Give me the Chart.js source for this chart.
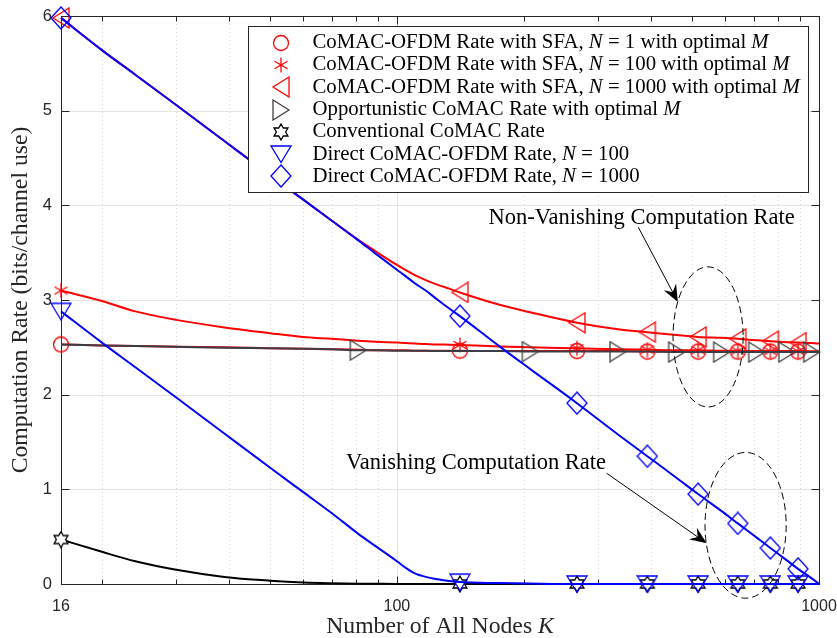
<!DOCTYPE html>
<html>
<head>
<meta charset="utf-8">
<script src="https://cdn.jsdelivr.net/npm/chart.js@4.4.0/dist/chart.umd.min.js"></script>
<style>
  html, body { margin: 0; padding: 0; background: #fff; }
  canvas { display: block; }
</style>
</head>
<body>
<canvas id="chart" width="837" height="638"></canvas>
<script>
// number of all nodes K (shared x values)
const K = [16, 20, 24, 30, 39, 50, 60, 70, 81, 89, 100, 105, 110, 117, 125, 133, 141, 175, 207, 267, 334, 392, 460, 517, 588, 642, 712, 767, 839, 892, 961, 1000];

const rateSfaN1 = [2.53, 2.52, 2.515, 2.505, 2.5, 2.49, 2.485, 2.48, 2.475, 2.47, 2.47, 2.47, 2.465, 2.465, 2.465, 2.465, 2.465, 2.46, 2.46, 2.46, 2.46, 2.455, 2.455, 2.455, 2.455, 2.455, 2.455, 2.455, 2.455, 2.455, 2.455, 2.455];
const rateSfaN100 = [3.10, 2.99, 2.88, 2.79, 2.71, 2.65, 2.61, 2.59, 2.57, 2.56, 2.55, 2.545, 2.54, 2.535, 2.53, 2.528, 2.525, 2.51, 2.5, 2.49, 2.48, 2.475, 2.47, 2.47, 2.465, 2.465, 2.46, 2.46, 2.46, 2.46, 2.455, 2.455];
const rateSfaN1000 = [5.98, 5.64, 5.38, 5.06, 4.68, 4.32, 4.06, 3.84, 3.635, 3.515, 3.37, 3.315, 3.265, 3.21, 3.16, 3.12, 3.08, 2.95, 2.87, 2.76, 2.69, 2.66, 2.63, 2.61, 2.6, 2.59, 2.575, 2.565, 2.555, 2.55, 2.545, 2.54];
const rateOpportunistic = [2.53, 2.52, 2.515, 2.505, 2.495, 2.49, 2.485, 2.48, 2.47, 2.47, 2.465, 2.465, 2.465, 2.465, 2.46, 2.46, 2.46, 2.46, 2.455, 2.455, 2.455, 2.455, 2.45, 2.45, 2.45, 2.45, 2.45, 2.45, 2.45, 2.45, 2.45, 2.45];
const rateConventional = [0.47, 0.34, 0.24, 0.15, 0.075, 0.035, 0.015, 0.007, 0.003, 0.002, 0.001, 0, 0, 0, 0, 0, 0, 0, 0, 0, 0, 0, 0, 0, 0, 0, 0, 0, 0, 0, 0, 0];
const rateDirectN100 = [2.88, 2.55, 2.29, 1.97, 1.59, 1.23, 0.97, 0.75, 0.53, 0.4, 0.24, 0.17, 0.115, 0.075, 0.05, 0.032, 0.02, 0.01, 0.005, 0, 0, 0, 0, 0, 0, 0, 0, 0, 0, 0, 0, 0];
const rateDirectN1000 = [5.98, 5.64, 5.38, 5.06, 4.68, 4.32, 4.06, 3.84, 3.63, 3.49, 3.32, 3.25, 3.18, 3.1, 3.0, 2.91, 2.83, 2.51, 2.27, 1.91, 1.58, 1.35, 1.12, 0.95, 0.77, 0.64, 0.49, 0.38, 0.25, 0.16, 0.06, 0];

// K values that carry a marker
const markK = [16, 141, 267, 392, 517, 642, 767, 892];
const markKOpp = [81, 207, 334, 460, 588, 712, 839, 961];

const seriesLabels = [
  'CoMAC-OFDM Rate with SFA, N = 1 with optimal M',
  'CoMAC-OFDM Rate with SFA, N = 100 with optimal M',
  'CoMAC-OFDM Rate with SFA, N = 1000 with optimal M',
  'Opportunistic CoMAC Rate with optimal M',
  'Conventional CoMAC Rate',
  'Direct CoMAC-OFDM Rate, N = 100',
  'Direct CoMAC-OFDM Rate, N = 1000'
];

const xTickVals = [16, 100, 1000];
const xMinorVals = [20, 30, 40, 50, 60, 70, 80, 90, 200, 300, 400, 500, 600, 700, 800, 900];
const yTickVals = [0, 1, 2, 3, 4, 5, 6];

const xTitle = 'Number of All Nodes K';
const yTitle = 'Computation Rate (bits/channel use)';
const notes = [
  { text: 'Non-Vanishing Computation Rate', k: 380, v: 3.87, from: [373, 3.77], to: [463, 2.98], ell: [451, 661, 1.87, 3.35] },
  { text: 'Vanishing Computation Rate', k: 154, v: 1.28, from: [314, 1.17], to: [542, 0.43], ell: [537, 836, -0.15, 1.39] }
];

const RED = '#ff0000', BLUE = '#0000ff', GRAY = '#404040', AX = '#262626';
const SERIF = '"Liberation Serif", "DejaVu Serif", serif';
const SANS = '"Liberation Sans", Arial, sans-serif';

function marker(w, h, draw) {
  const c = document.createElement('canvas');
  c.width = w; c.height = h;
  const g = c.getContext('2d');
  g.lineWidth = 1.3;
  draw(g);
  return c;
}
function poly(g, pts, color, fill) {
  g.beginPath();
  pts.forEach((p, i) => i ? g.lineTo(p[0], p[1]) : g.moveTo(p[0], p[1]));
  g.closePath();
  if (fill) { g.fillStyle = fill; g.fill(); }
  g.strokeStyle = color; g.stroke();
}

const mkCircle = marker(18, 18, g => { g.strokeStyle = RED; g.beginPath(); g.arc(9, 9, 7.5, 0, Math.PI * 2); g.stroke(); });
const mkAster = marker(18, 18, g => {
  g.strokeStyle = RED; g.beginPath();
  for (const a of [90, 30, -30]) {
    const r = a * Math.PI / 180, dx = 7.5 * Math.cos(r), dy = 7.5 * Math.sin(r);
    g.moveTo(9 - dx, 9 - dy); g.lineTo(9 + dx, 9 + dy);
  }
  g.stroke();
});
const mkLeft = marker(20, 22, g => poly(g, [[2, 11], [18, 1], [18, 21]], RED));
const mkRight = marker(20, 22, g => poly(g, [[18, 11], [2, 1], [2, 21]], GRAY));
const mkDown = marker(22, 20, g => poly(g, [[1, 2], [21, 2], [11, 18.5]], BLUE));
const mkDiamond = marker(22, 24, g => poly(g, [[11, 1], [21, 12], [11, 23], [1, 12]], BLUE));
const mkHex = marker(18, 18, g => {
  const pts = [];
  for (let i = 0; i < 12; i++) {
    const r = i % 2 ? 8 / Math.sqrt(3) : 8;
    const a = (-90 + i * 30) * Math.PI / 180;
    pts.push([9 + r * Math.cos(a), 9 + r * Math.sin(a)]);
  }
  poly(g, pts, '#000', '#fff');
});

const series = [
  { data: rateSfaN1, color: RED, mk: mkCircle, marks: markK },
  { data: rateSfaN100, color: RED, mk: mkAster, marks: markK },
  { data: rateSfaN1000, color: RED, mk: mkLeft, marks: markK },
  { data: rateOpportunistic, color: '#3c3c46', mk: mkRight, marks: markKOpp },
  { data: rateConventional, color: '#000', mk: mkHex, marks: markK },
  { data: rateDirectN100, color: BLUE, mk: mkDown, marks: markK },
  { data: rateDirectN1000, color: BLUE, mk: mkDiamond, marks: markK }
];

// text with italic single-letter symbols (N, M, K)
function richParts(s) {
  return s.split(/\b([NMK])\b/).map((t, i) => ({ t, it: i % 2 === 1 })).filter(p => p.t);
}
function richWidth(ctx, s, size) {
  let w = 0;
  richParts(s).forEach(p => { ctx.font = (p.it ? 'italic ' : '') + size + 'px ' + SERIF; w += ctx.measureText(p.t).width; });
  return w;
}
function drawRich(ctx, s, x, y, size, align) {
  const w = richWidth(ctx, s, size);
  let cx = align === 'center' ? x - w / 2 : x;
  ctx.textAlign = 'left'; ctx.textBaseline = 'middle';
  richParts(s).forEach(p => {
    ctx.font = (p.it ? 'italic ' : '') + size + 'px ' + SERIF;
    ctx.fillText(p.t, cx, y);
    cx += ctx.measureText(p.t).width;
  });
}

const framePlugin = {
  id: 'frame',
  beforeDatasetsDraw(chart) {
    const { ctx, chartArea: a, scales: { x, y } } = chart;
    const L = (x0, y0, x1, y1) => { ctx.beginPath(); ctx.moveTo(x0, y0); ctx.lineTo(x1, y1); ctx.stroke(); };
    const px = v => Math.round(x.getPixelForValue(v)) + 0.5;
    const py = v => Math.round(y.getPixelForValue(v)) + 0.5;
    ctx.save();
    ctx.lineWidth = 1;
    ctx.strokeStyle = '#d4d4d4'; ctx.setLineDash([1, 3]);
    xMinorVals.forEach(v => L(px(v), a.top, px(v), a.bottom));
    ctx.setLineDash([]); ctx.strokeStyle = '#e4e4e4';
    xTickVals.forEach(v => L(px(v), a.top, px(v), a.bottom));
    yTickVals.forEach(v => L(a.left, py(v), a.right, py(v)));
    ctx.strokeStyle = AX;
    const l = px(16), r = px(1000), t = py(6), b = py(0);
    ctx.strokeRect(l, t, r - l, b - t);
    yTickVals.forEach(v => { L(l, py(v), l + 8, py(v)); L(r, py(v), r - 8, py(v)); });
    xTickVals.forEach(v => { L(px(v), b, px(v), b - 8); L(px(v), t, px(v), t + 8); });
    xMinorVals.forEach(v => { L(px(v), b, px(v), b - 5); L(px(v), t, px(v), t + 5); });
    // axis titles
    ctx.fillStyle = AX;
    drawRich(ctx, xTitle, (a.left + a.right) / 2, 627, 23.7, 'center');
    ctx.save();
    ctx.translate(21, (a.top + a.bottom) / 2);
    ctx.rotate(-Math.PI / 2);
    drawRich(ctx, yTitle, 0, 0, 23.7, 'center');
    ctx.restore();
    ctx.restore();
  },
  afterDatasetsDraw(chart) {
    const { ctx, chartArea: a, scales: { x, y } } = chart;
    ctx.save();
    // annotations
    notes.forEach(n => {
      ctx.strokeStyle = '#000'; ctx.fillStyle = '#000'; ctx.lineWidth = 1;
      const [k0, k1, v0, v1] = n.ell;
      const ex0 = x.getPixelForValue(k0), ex1 = x.getPixelForValue(k1);
      const ey0 = y.getPixelForValue(v1), ey1 = y.getPixelForValue(v0);
      ctx.setLineDash([7, 4]);
      ctx.beginPath();
      ctx.ellipse((ex0 + ex1) / 2, (ey0 + ey1) / 2, (ex1 - ex0) / 2, (ey1 - ey0) / 2, 0, 0, Math.PI * 2);
      ctx.stroke();
      ctx.setLineDash([]);
      const x0 = x.getPixelForValue(n.from[0]), y0 = y.getPixelForValue(n.from[1]);
      const x1 = x.getPixelForValue(n.to[0]), y1 = y.getPixelForValue(n.to[1]);
      const ang = Math.atan2(y1 - y0, x1 - x0);
      const pt = (d, s) => [x1 - d * Math.cos(ang) - s * Math.sin(ang), y1 - d * Math.sin(ang) + s * Math.cos(ang)];
      ctx.beginPath(); ctx.moveTo(x0, y0); ctx.lineTo(...pt(8, 0)); ctx.stroke();
      ctx.beginPath();
      ctx.moveTo(x1, y1); ctx.lineTo(...pt(17, 7)); ctx.lineTo(...pt(11, 0)); ctx.lineTo(...pt(17, -7));
      ctx.closePath(); ctx.fill();
      drawRich(ctx, n.text, x.getPixelForValue(n.k), y.getPixelForValue(n.v), 22.5, 'center');
    });
    // legend (markers only, as in the figure)
    const size = 20.8, rowH = 22.3;
    const ds = chart.data.datasets;
    const tw = Math.max(...ds.map(d => richWidth(ctx, d.label, size)));
    const bw = Math.round(tw + 64 + 9), bh = Math.round(ds.length * rowH + 10);
    const bx = Math.round(a.right - 11 - bw) + 0.5, by = Math.round(a.top + 10) + 0.5;
    ctx.fillStyle = '#fff'; ctx.fillRect(bx, by, bw, bh);
    ctx.strokeStyle = AX; ctx.lineWidth = 1; ctx.strokeRect(bx, by, bw, bh);
    ds.forEach((d, i) => {
      const cy = by + 5 + rowH * (i + 0.5);
      const m = d.pointStyle;
      ctx.drawImage(m, Math.round(bx + 32 - m.width / 2), Math.round(cy - m.height / 2));
      ctx.fillStyle = '#000';
      drawRich(ctx, d.label, bx + 64, cy, size, 'left');
    });
    ctx.restore();
  }
};

new Chart(document.getElementById('chart'), {
  type: 'line',
  data: {
    labels: K,
    datasets: series.map((s, i) => ({
      label: seriesLabels[i],
      data: s.data,
      borderColor: s.color,
      borderWidth: 2,
      fill: false,
      cubicInterpolationMode: 'monotone',
      pointStyle: s.mk,
      pointRadius: c => s.marks.includes(K[c.dataIndex]) ? 8 : 0,
      pointHoverRadius: 0,
      clip: false,
      order: series.length - i
    }))
  },
  options: {
    responsive: false,
    animation: false,
    devicePixelRatio: 1,
    events: [],
    layout: { padding: { left: 0, top: 16, right: 18, bottom: 0 } },
    plugins: { legend: { display: false }, tooltip: { enabled: false } },
    scales: {
      x: {
        type: 'logarithmic', min: 16, max: 1000,
        afterBuildTicks: s => { s.ticks = xTickVals.map(v => ({ value: v })); },
        afterFit: s => { s.height = 54; s.paddingLeft = 0; s.paddingRight = 0; },
        grid: { display: false }, border: { display: false },
        ticks: { autoSkip: false, maxRotation: 0, padding: 5, color: AX, font: { family: SANS, size: 16 }, callback: v => String(v) }
      },
      y: {
        min: 0, max: 6,
        afterBuildTicks: s => { s.ticks = yTickVals.map(v => ({ value: v })); },
        afterFit: s => { s.width = 61; s.paddingTop = 0; s.paddingBottom = 0; },
        grid: { display: false }, border: { display: false },
        ticks: { padding: 1, color: AX, font: { family: SANS, size: 16.5 } }
      }
    }
  },
  plugins: [framePlugin]
});
</script>
</body>
</html>
